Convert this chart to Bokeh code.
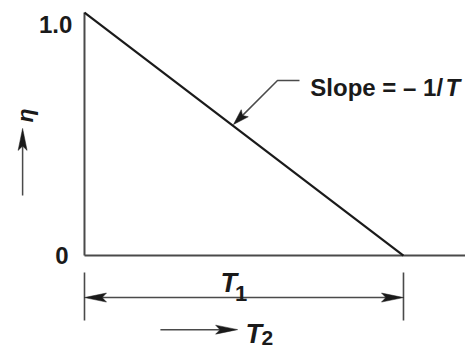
import numpy as np
from bokeh.plotting import figure
from bokeh.models import Range1d
from bokeh.core.properties import value
from bokeh.embed import file_html
from bokeh.resources import INLINE

# ---- data ----
t2_rel = [0.0, 1.0]          # T2 / T1
eta = [1.0, 0.0]             # efficiency
y_tick_values = [1.0, 0.0]
y_tick_labels = ["1.0", "0"]
slope_text = "Slope = \u2013 1/"
slope_text_T = "T"

# ---- canvas ----
W, H = 465, 350
X0, X1 = -0.2633, 1.1944
Y0, Y1 = -0.3909, 1.0494
SX = W / (X1 - X0)
SY = H / (Y1 - Y0)

p = figure(width=W, height=H, x_range=Range1d(X0, X1), y_range=Range1d(Y0, Y1),
           output_backend="svg", toolbar_location=None, min_border=0,
           outline_line_color=None)
p.axis.visible = False
p.grid.visible = False
p.background_fill_color = "white"
p.border_fill_color = "white"

FONT = value("Liberation Sans")
INK = "#1a1a1a"
GREY = "#4a4a4a"


def head(tx, ty, fx, fy, L=20, hw=4.5):
    """narrow filled arrow head, tip at (tx,ty), coming from (fx,fy); sizes in px"""
    dx = (tx - fx) * SX
    dy = (ty - fy) * SY
    n = np.hypot(dx, dy)
    ux, uy = dx / n, dy / n
    px_, py_ = -uy, ux
    bx, by = -L * ux, -L * uy
    pts = [(0, 0), (bx + hw * px_, by + hw * py_), (bx * 0.8, by * 0.8),
           (bx - hw * px_, by - hw * py_)]
    return [tx + a / SX for a, b in pts], [ty + b / SY for a, b in pts]


# axes lines
p.line([0, 0], [0, max(eta)], line_color=GREY, line_width=2)
p.line([0, X1], [0, 0], line_color=GREY, line_width=2)

# main line
p.line(t2_rel, eta, line_color=INK, line_width=2.2)

# y tick labels
p.text(x=[-0.038, -0.050], y=[0.950, 0.0], text=y_tick_labels,
       text_font=FONT, text_font_size="24px", text_font_style="bold",
       text_align="right", text_baseline="alphabetic", text_color=INK)

heads_x, heads_y = [], []

# eta label with arrow
p.text(x=[-0.185], y=[0.576], text=["\u03b7"], angle=np.pi / 2,
       text_font=FONT, text_font_size="23px", text_font_style="bold italic",
       text_align="center", text_baseline="middle", text_color=INK)
p.line([-0.194, -0.194], [0.247, 0.50], line_color=GREY, line_width=1.5)
hx, hy = head(-0.194, 0.523, -0.194, 0.247, L=22, hw=4.5)
heads_x.append(hx); heads_y.append(hy)

# slope annotation
p.text(x=[0.708], y=[0.691], text=[slope_text], text_font=FONT,
       text_font_size="24px", text_font_style="bold", text_align="left",
       text_baseline="alphabetic", text_color=INK)
p.text(x=[1.132], y=[0.691], text=[slope_text_T], text_font=FONT,
       text_font_size="24px", text_font_style="bold italic", text_align="left",
       text_baseline="alphabetic", text_color=INK)
p.line([0.674, 0.605, 0.480], [0.720, 0.720, 0.556], line_color=GREY, line_width=1.5)
hx, hy = head(0.467, 0.539, 0.605, 0.720, L=16, hw=5)
heads_x.append(hx); heads_y.append(hy)

# dimension T1
for xv in t2_rel:
    p.line([xv, xv], [-0.070, -0.267], line_color=GREY, line_width=1.6)
p.line([0.03, 0.97], [-0.173, -0.173], line_color=GREY, line_width=1.6)
hx, hy = head(0.0, -0.173, 1.0, -0.173, L=22, hw=4.5)
heads_x.append(hx); heads_y.append(hy)
hx, hy = head(1.0, -0.173, 0.0, -0.173, L=22, hw=4.5)
heads_x.append(hx); heads_y.append(hy)
p.text(x=[0.426], y=[-0.115], text=["T"], text_font=FONT, text_font_size="27px",
       text_font_style="bold italic", text_align="left", text_baseline="alphabetic",
       text_color=INK)
p.text(x=[0.472], y=[-0.156], text=["1"], text_font=FONT, text_font_size="22px",
       text_font_style="bold", text_align="left", text_baseline="alphabetic",
       text_color=INK)

# T2 axis label with arrow
p.line([0.238, 0.46], [-0.305, -0.305], line_color=GREY, line_width=1.5)
hx, hy = head(0.480, -0.305, 0.238, -0.305, L=22, hw=4.5)
heads_x.append(hx); heads_y.append(hy)
p.text(x=[0.505], y=[-0.322], text=["T"], text_font=FONT, text_font_size="27px",
       text_font_style="bold italic", text_align="left", text_baseline="alphabetic",
       text_color=INK)
p.text(x=[0.555], y=[-0.338], text=["2"], text_font=FONT, text_font_size="21px",
       text_font_style="bold", text_align="left", text_baseline="alphabetic",
       text_color=INK)

p.patches(heads_x, heads_y, fill_color=INK, line_color=INK, line_width=0.5)

open("out.html", "w").write(file_html(p, INLINE))
